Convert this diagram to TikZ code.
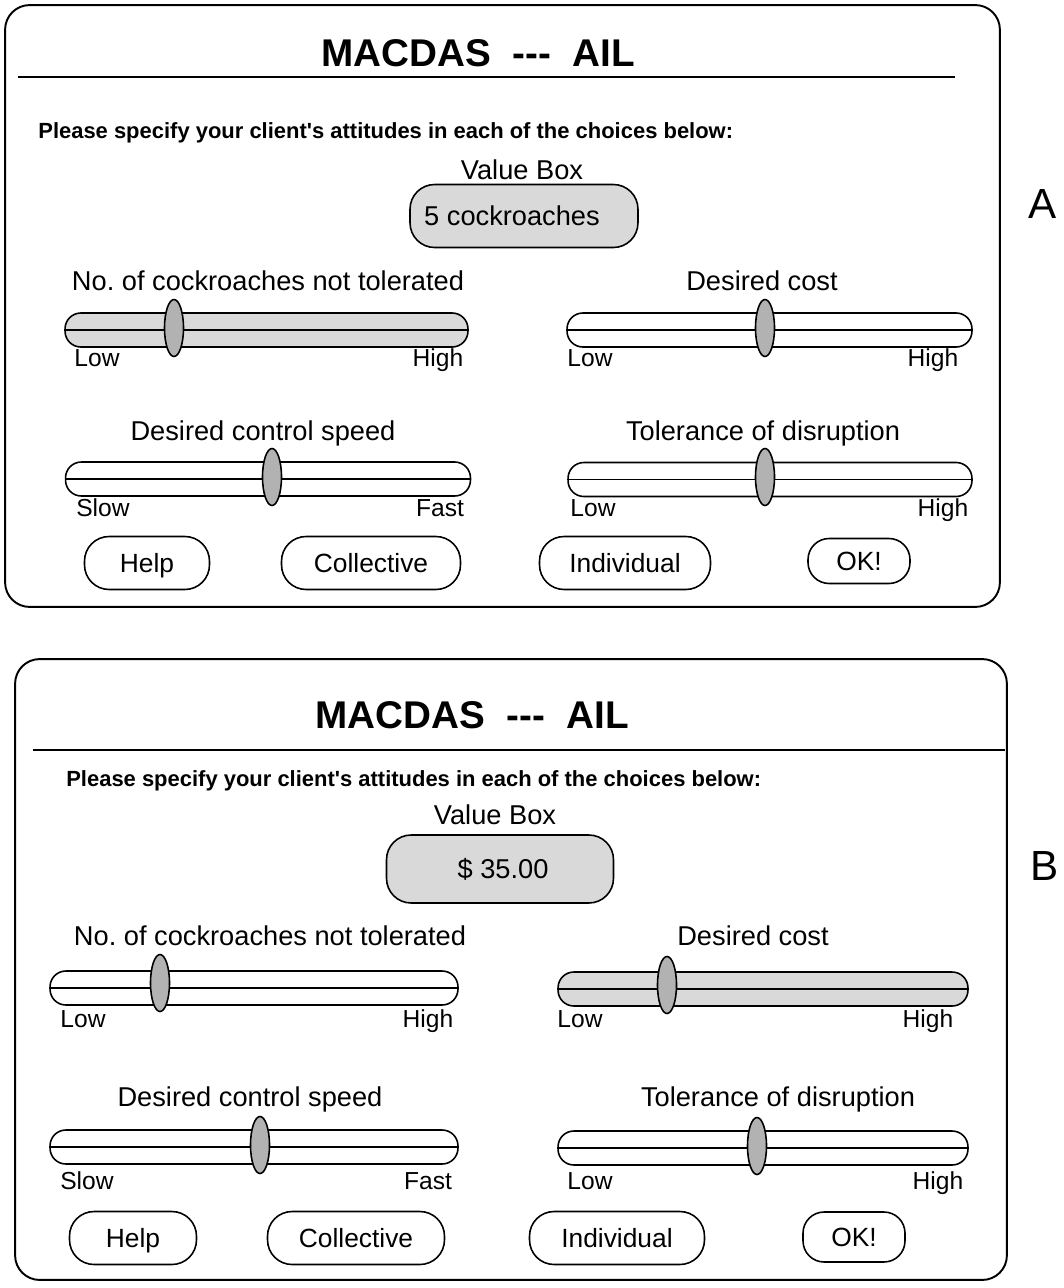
\documentclass[tikz,border=0pt]{standalone}
\usepackage{fontspec}
\setmainfont{Liberation Sans}[Ligatures=TeXOff]
\usetikzlibrary{shapes.geometric}
\tikzset{
  panel/.style={draw, line width=1.1pt, rounded corners=14pt},
  rule/.style={line width=1.1pt},
  btn/.style={draw, line width=0.9pt, rounded corners=14pt, minimum height=1.06cm, inner sep=0pt, text height=10.7pt, text depth=0pt, font=\fontsize{15}{17}\selectfont},
  vbox/.style={draw, line width=0.9pt, rounded corners=14pt, fill=gray!30, inner sep=0pt},
  track/.style={draw, line width=0.9pt, rounded corners=9pt, minimum height=0.68cm, inner sep=0pt},
  trackfill/.style={track, fill=gray!30},
  knob/.style={draw, ellipse, line width=0.9pt, fill=gray!60, minimum width=0.38cm, minimum height=1.14cm, inner sep=0pt},
  lbl/.style={font=\fontsize{15.5}{18}\selectfont, inner sep=0pt, anchor=base},
  endlbl/.style={font=\fontsize{14}{16}\selectfont, inner sep=0pt, anchor=base},
  ttl/.style={font=\fontsize{22}{26}\selectfont\bfseries, inner sep=0pt, anchor=base},
  please/.style={font=\fontsize{12.5}{15}\selectfont\bfseries, inner sep=0pt, anchor=base west},
  tag/.style={font=\fontsize{24}{28}\selectfont, inner sep=0pt, anchor=base},
}
\begin{document}
\frenchspacing
\begin{tikzpicture}[x=0.02cm, y=-0.02cm]
\useasboundingbox (0,0) rectangle (1063,1288);

% ================= Panel A =================
\node[panel, minimum width=19.9cm, minimum height=12.04cm] (pA) at (502.5,306) {};
\node[ttl] (titleA) at (478,66) {MACDAS \ --- \ AIL};
\coordinate (rAl) at (18,77);
\coordinate (rAr) at (955,77);
\draw[rule] (rAl) -- (rAr);
\node[please] (plA) at (38,138) {Please specify your client's attitudes in each of the choices below:};
\node[lbl] (vbA) at (522,179) {Value Box};
\node[vbox, minimum width=4.56cm, minimum height=1.26cm] (valA) at (524,216) {};
\node[lbl] (valAt) at (512,225) {5 cockroaches};

\node[lbl] (l1A) at (268,290) {No. of cockroaches not tolerated};
\node[trackfill, minimum width=8.06cm] (t1A) at (266.5,330) {};
\draw[line width=0.9pt] (t1A.west) -- (t1A.east);
\node[knob] (k1A) at (174,328) {};
\node[endlbl] (lo1A) at (97,366) {Low};
\node[endlbl] (hi1A) at (438,366) {High};

\node[lbl] (l2A) at (762,290) {Desired cost};
\node[track, minimum width=8.1cm] (t2A) at (769.5,330) {};
\draw[line width=0.9pt] (t2A.west) -- (t2A.east);
\node[knob] (k2A) at (765,328) {};
\node[endlbl] (lo2A) at (590,366) {Low};
\node[endlbl] (hi2A) at (933,366) {High};

\node[lbl] (l3A) at (263,440) {Desired control speed};
\node[track, minimum width=8.1cm] (t3A) at (268,479) {};
\draw[line width=0.9pt] (t3A.west) -- (t3A.east);
\node[knob] (k3A) at (272,477) {};
\node[endlbl] (lo3A) at (103,516) {Slow};
\node[endlbl] (hi3A) at (440,516) {Fast};

\node[lbl] (l4A) at (763,440) {Tolerance of disruption};
\node[track, minimum width=8.08cm] (t4A) at (770,479.5) {};
\draw[line width=0.9pt] (t4A.west) -- (t4A.east);
\node[knob] (k4A) at (765,477) {};
\node[endlbl] (lo4A) at (593,516) {Low};
\node[endlbl] (hi4A) at (943,516) {High};

\node[btn, minimum width=2.5cm] (helpA) at (147,563) {Help};
\node[btn, minimum width=3.58cm] (collA) at (371,563) {Collective};
\node[btn, minimum width=3.42cm] (indA) at (625,563) {Individual};
\node[btn, minimum width=2.04cm, minimum height=0.9cm, rounded corners=12pt] (okA) at (859,561) {OK!};

\node[tag] (tagA) at (1043,218) {A};

% ================= Panel B =================
\node[panel, minimum width=19.84cm, minimum height=12.42cm] (pB) at (511,969.5) {};
\node[ttl] (titleB) at (472,728) {MACDAS \ --- \ AIL};
\coordinate (rBl) at (33,750);
\coordinate (rBr) at (1005,750);
\draw[rule] (rBl) -- (rBr);
\node[please] (plB) at (66,786) {Please specify your client's attitudes in each of the choices below:};
\node[lbl] (vbB) at (495,824) {Value Box};
\node[vbox, minimum width=4.54cm, minimum height=1.36cm] (valB) at (500,869) {};
\node[lbl] (valBt) at (503,878) {\$ 35.00};

\node[lbl] (l1B) at (270,945) {No. of cockroaches not tolerated};
\node[track, minimum width=8.16cm] (t1B) at (254,988) {};
\draw[line width=0.9pt] (t1B.west) -- (t1B.east);
\node[knob] (k1B) at (160,983) {};
\node[endlbl] (lo1B) at (83,1027) {Low};
\node[endlbl] (hi1B) at (428,1027) {High};

\node[lbl] (l2B) at (753,945) {Desired cost};
\node[trackfill, minimum width=8.2cm] (t2B) at (763,989) {};
\draw[line width=0.9pt] (t2B.west) -- (t2B.east);
\node[knob] (k2B) at (667,985) {};
\node[endlbl] (lo2B) at (580,1027) {Low};
\node[endlbl] (hi2B) at (928,1027) {High};

\node[lbl] (l3B) at (250,1106) {Desired control speed};
\node[track, minimum width=8.16cm] (t3B) at (254,1147) {};
\draw[line width=0.9pt] (t3B.west) -- (t3B.east);
\node[knob] (k3B) at (260,1145) {};
\node[endlbl] (lo3B) at (87,1189) {Slow};
\node[endlbl] (hi3B) at (428,1189) {Fast};

\node[lbl] (l4B) at (778,1106) {Tolerance of disruption};
\node[track, minimum width=8.2cm] (t4B) at (763,1148) {};
\draw[line width=0.9pt] (t4B.west) -- (t4B.east);
\node[knob] (k4B) at (757,1146) {};
\node[endlbl] (lo4B) at (590,1189) {Low};
\node[endlbl] (hi4B) at (938,1189) {High};

\node[btn, minimum width=2.54cm] (helpB) at (133,1238) {Help};
\node[btn, minimum width=3.54cm] (collB) at (356,1238) {Collective};
\node[btn, minimum width=3.5cm] (indB) at (617,1238) {Individual};
\node[btn, minimum width=2.04cm, minimum height=1.0cm, rounded corners=12pt] (okB) at (854,1237) {OK!};

\node[tag] (tagB) at (1045,880) {B};
\end{tikzpicture}
\end{document}
